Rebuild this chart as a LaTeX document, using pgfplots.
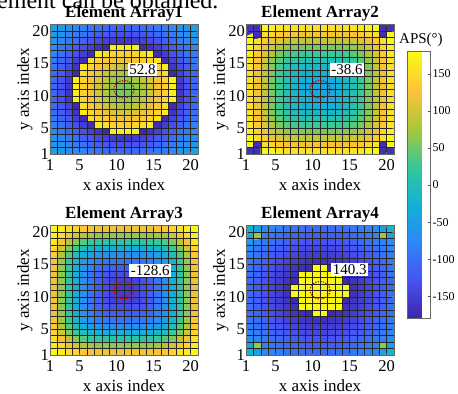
\documentclass[border=0pt]{standalone}
\usepackage{fontspec}
\setmainfont{Liberation Serif}
\usepackage{pgfplots}
\usepackage{pgfplotstable}
\pgfplotsset{compat=1.18}
\pgfplotsset{colormap={parula}{rgb=(0.2422,0.1504,0.6603) rgb=(0.2810,0.3228,0.9579) rgb=(0.1786,0.5289,0.9682) rgb=(0.0689,0.6948,0.8394) rgb=(0.2161,0.7843,0.5923) rgb=(0.6720,0.7793,0.2227) rgb=(0.9970,0.7659,0.2199) rgb=(0.9769,0.9839,0.0805)}}
\newcommand{\fs}[1]{\fontsize{#1}{#1}\selectfont}

% Element Array1 (rows j=1..20, columns i=1..20)
\pgfplotstableread[row sep=\\, header=false]{
-48\\ -56\\ -65\\ -74\\ -83\\ -91\\ -98\\ -104\\ -108\\ -110\\ -110\\ -108\\ -104\\ -98\\ -91\\ -83\\ -74\\ -65\\ -56\\ -48\\
-56\\ -66\\ -77\\ -88\\ -98\\ -108\\ -117\\ -124\\ -129\\ -132\\ -132\\ -129\\ -124\\ -117\\ -108\\ -98\\ -88\\ -77\\ -66\\ -56\\
-65\\ -77\\ -89\\ -102\\ -115\\ -126\\ -138\\ -148\\ -156\\ -160\\ -160\\ -156\\ -148\\ -138\\ -126\\ -115\\ -102\\ -89\\ -77\\ -65\\
-74\\ -88\\ -102\\ -117\\ -132\\ -148\\ -164\\ -176\\ 170\\ 165\\ 165\\ 170\\ -176\\ -164\\ -148\\ -132\\ -117\\ -102\\ -88\\ -74\\
-83\\ -98\\ -115\\ -132\\ -152\\ -172\\ 165\\ 152\\ 144\\ 140\\ 140\\ 144\\ 152\\ 165\\ -172\\ -152\\ -132\\ -115\\ -98\\ -83\\
-91\\ -108\\ -126\\ -148\\ -172\\ 160\\ 144\\ 132\\ 124\\ 120\\ 120\\ 124\\ 132\\ 144\\ 160\\ -172\\ -148\\ -126\\ -108\\ -91\\
-98\\ -117\\ -138\\ -164\\ 165\\ 144\\ 128\\ 116\\ 106\\ 100\\ 100\\ 106\\ 116\\ 128\\ 144\\ 165\\ -164\\ -138\\ -117\\ -98\\
-104\\ -124\\ -148\\ -176\\ 152\\ 132\\ 116\\ 100\\ 87\\ 80\\ 80\\ 87\\ 100\\ 116\\ 132\\ 152\\ -176\\ -148\\ -124\\ -104\\
-108\\ -129\\ -156\\ 170\\ 144\\ 124\\ 106\\ 87\\ 72\\ 65\\ 65\\ 72\\ 87\\ 106\\ 124\\ 144\\ 170\\ -156\\ -129\\ -108\\
-110\\ -132\\ -160\\ 165\\ 140\\ 120\\ 100\\ 80\\ 65\\ 55\\ 55\\ 65\\ 80\\ 100\\ 120\\ 140\\ 165\\ -160\\ -132\\ -110\\
-110\\ -132\\ -160\\ 165\\ 140\\ 120\\ 100\\ 80\\ 65\\ 55\\ 55\\ 65\\ 80\\ 100\\ 120\\ 140\\ 165\\ -160\\ -132\\ -110\\
-108\\ -129\\ -156\\ 170\\ 144\\ 124\\ 106\\ 87\\ 72\\ 65\\ 65\\ 72\\ 87\\ 106\\ 124\\ 144\\ 170\\ -156\\ -129\\ -108\\
-104\\ -124\\ -148\\ -176\\ 152\\ 132\\ 116\\ 100\\ 87\\ 80\\ 80\\ 87\\ 100\\ 116\\ 132\\ 152\\ -176\\ -148\\ -124\\ -104\\
-98\\ -117\\ -138\\ -164\\ 165\\ 144\\ 128\\ 116\\ 106\\ 100\\ 100\\ 106\\ 116\\ 128\\ 144\\ 165\\ -164\\ -138\\ -117\\ -98\\
-91\\ -108\\ -126\\ -148\\ -172\\ 160\\ 144\\ 132\\ 124\\ 120\\ 120\\ 124\\ 132\\ 144\\ 160\\ -172\\ -148\\ -126\\ -108\\ -91\\
-83\\ -98\\ -115\\ -132\\ -152\\ -172\\ 165\\ 152\\ 144\\ 140\\ 140\\ 144\\ 152\\ 165\\ -172\\ -152\\ -132\\ -115\\ -98\\ -83\\
-74\\ -88\\ -102\\ -117\\ -132\\ -148\\ -164\\ -176\\ 170\\ 165\\ 165\\ 170\\ -176\\ -164\\ -148\\ -132\\ -117\\ -102\\ -88\\ -74\\
-65\\ -77\\ -89\\ -102\\ -115\\ -126\\ -138\\ -148\\ -156\\ -160\\ -160\\ -156\\ -148\\ -138\\ -126\\ -115\\ -102\\ -89\\ -77\\ -65\\
-56\\ -66\\ -77\\ -88\\ -98\\ -108\\ -117\\ -124\\ -129\\ -132\\ -132\\ -129\\ -124\\ -117\\ -108\\ -98\\ -88\\ -77\\ -66\\ -56\\
-48\\ -56\\ -65\\ -74\\ -83\\ -91\\ -98\\ -104\\ -108\\ -110\\ -110\\ -108\\ -104\\ -98\\ -91\\ -83\\ -74\\ -65\\ -56\\ -48\\
}\tabA

% Element Array2
\pgfplotstableread[row sep=\\, header=false]{
-165\\ -170\\ 178\\ 170\\ 162\\ 158\\ 155\\ 154\\ 154\\ 154\\ 154\\ 154\\ 154\\ 155\\ 158\\ 162\\ 170\\ 178\\ -170\\ -165\\
178\\ -172\\ 156\\ 143\\ 133\\ 127\\ 124\\ 122\\ 122\\ 122\\ 122\\ 122\\ 122\\ 124\\ 127\\ 133\\ 143\\ 156\\ -172\\ 178\\
178\\ 156\\ 135\\ 118\\ 105\\ 96\\ 91\\ 89\\ 88\\ 88\\ 88\\ 88\\ 89\\ 91\\ 96\\ 105\\ 118\\ 135\\ 156\\ 178\\
170\\ 143\\ 118\\ 96\\ 78\\ 66\\ 59\\ 56\\ 55\\ 55\\ 55\\ 55\\ 56\\ 59\\ 66\\ 78\\ 96\\ 118\\ 143\\ 170\\
162\\ 133\\ 105\\ 78\\ 55\\ 41\\ 32\\ 28\\ 27\\ 27\\ 27\\ 27\\ 28\\ 32\\ 41\\ 55\\ 78\\ 105\\ 133\\ 162\\
158\\ 127\\ 96\\ 66\\ 41\\ 23\\ 12\\ 6\\ 4\\ 4\\ 4\\ 4\\ 6\\ 12\\ 23\\ 41\\ 66\\ 96\\ 127\\ 158\\
155\\ 124\\ 91\\ 59\\ 32\\ 12\\ -3\\ -11\\ -14\\ -14\\ -14\\ -14\\ -11\\ -3\\ 12\\ 32\\ 59\\ 91\\ 124\\ 155\\
154\\ 122\\ 89\\ 56\\ 28\\ 6\\ -11\\ -21\\ -26\\ -27\\ -27\\ -26\\ -21\\ -11\\ 6\\ 28\\ 56\\ 89\\ 122\\ 154\\
154\\ 122\\ 88\\ 55\\ 27\\ 4\\ -14\\ -26\\ -33\\ -35\\ -35\\ -33\\ -26\\ -14\\ 4\\ 27\\ 55\\ 88\\ 122\\ 154\\
154\\ 122\\ 88\\ 55\\ 27\\ 4\\ -14\\ -27\\ -35\\ -38\\ -38\\ -35\\ -27\\ -14\\ 4\\ 27\\ 55\\ 88\\ 122\\ 154\\
154\\ 122\\ 88\\ 55\\ 27\\ 4\\ -14\\ -27\\ -35\\ -38\\ -38\\ -35\\ -27\\ -14\\ 4\\ 27\\ 55\\ 88\\ 122\\ 154\\
154\\ 122\\ 88\\ 55\\ 27\\ 4\\ -14\\ -26\\ -33\\ -35\\ -35\\ -33\\ -26\\ -14\\ 4\\ 27\\ 55\\ 88\\ 122\\ 154\\
154\\ 122\\ 89\\ 56\\ 28\\ 6\\ -11\\ -21\\ -26\\ -27\\ -27\\ -26\\ -21\\ -11\\ 6\\ 28\\ 56\\ 89\\ 122\\ 154\\
155\\ 124\\ 91\\ 59\\ 32\\ 12\\ -3\\ -11\\ -14\\ -14\\ -14\\ -14\\ -11\\ -3\\ 12\\ 32\\ 59\\ 91\\ 124\\ 155\\
158\\ 127\\ 96\\ 66\\ 41\\ 23\\ 12\\ 6\\ 4\\ 4\\ 4\\ 4\\ 6\\ 12\\ 23\\ 41\\ 66\\ 96\\ 127\\ 158\\
162\\ 133\\ 105\\ 78\\ 55\\ 41\\ 32\\ 28\\ 27\\ 27\\ 27\\ 27\\ 28\\ 32\\ 41\\ 55\\ 78\\ 105\\ 133\\ 162\\
170\\ 143\\ 118\\ 96\\ 78\\ 66\\ 59\\ 56\\ 55\\ 55\\ 55\\ 55\\ 56\\ 59\\ 66\\ 78\\ 96\\ 118\\ 143\\ 170\\
178\\ 156\\ 135\\ 118\\ 105\\ 96\\ 91\\ 89\\ 88\\ 88\\ 88\\ 88\\ 89\\ 91\\ 96\\ 105\\ 118\\ 135\\ 156\\ 178\\
178\\ -172\\ 156\\ 143\\ 133\\ 127\\ 124\\ 122\\ 122\\ 122\\ 122\\ 122\\ 122\\ 124\\ 127\\ 133\\ 143\\ 156\\ -172\\ 178\\
-165\\ -170\\ 178\\ 170\\ 162\\ 158\\ 155\\ 154\\ 154\\ 154\\ 154\\ 154\\ 154\\ 155\\ 158\\ 162\\ 170\\ 178\\ -170\\ -165\\
}\tabB

% Element Array3
\pgfplotstableread[row sep=\\, header=false]{
176\\ 166\\ 156\\ 142\\ 131\\ 124\\ 120\\ 118\\ 118\\ 118\\ 118\\ 118\\ 118\\ 120\\ 124\\ 131\\ 142\\ 156\\ 166\\ 176\\
166\\ 148\\ 121\\ 98\\ 82\\ 72\\ 67\\ 65\\ 64\\ 64\\ 64\\ 64\\ 65\\ 67\\ 72\\ 82\\ 98\\ 121\\ 148\\ 166\\
156\\ 121\\ 86\\ 58\\ 38\\ 25\\ 18\\ 15\\ 14\\ 14\\ 14\\ 14\\ 15\\ 18\\ 25\\ 38\\ 58\\ 86\\ 121\\ 156\\
142\\ 98\\ 58\\ 25\\ -1\\ -16\\ -25\\ -29\\ -30\\ -30\\ -30\\ -30\\ -29\\ -25\\ -16\\ -1\\ 25\\ 58\\ 98\\ 142\\
131\\ 82\\ 38\\ -1\\ -30\\ -49\\ -60\\ -65\\ -67\\ -67\\ -67\\ -67\\ -65\\ -60\\ -49\\ -30\\ -1\\ 38\\ 82\\ 131\\
124\\ 72\\ 25\\ -16\\ -49\\ -72\\ -86\\ -93\\ -95\\ -95\\ -95\\ -95\\ -93\\ -86\\ -72\\ -49\\ -16\\ 25\\ 72\\ 124\\
120\\ 67\\ 18\\ -25\\ -60\\ -86\\ -103\\ -113\\ -117\\ -118\\ -118\\ -117\\ -113\\ -103\\ -86\\ -60\\ -25\\ 18\\ 67\\ 120\\
118\\ 65\\ 15\\ -29\\ -65\\ -93\\ -113\\ -128\\ -134\\ -135\\ -135\\ -134\\ -128\\ -113\\ -93\\ -65\\ -29\\ 15\\ 65\\ 118\\
118\\ 64\\ 14\\ -30\\ -67\\ -95\\ -117\\ -134\\ -146\\ -148\\ -148\\ -146\\ -134\\ -117\\ -95\\ -67\\ -30\\ 14\\ 64\\ 118\\
118\\ 64\\ 14\\ -30\\ -67\\ -95\\ -118\\ -135\\ -148\\ -155\\ -155\\ -148\\ -135\\ -118\\ -95\\ -67\\ -30\\ 14\\ 64\\ 118\\
118\\ 64\\ 14\\ -30\\ -67\\ -95\\ -118\\ -135\\ -148\\ -155\\ -155\\ -148\\ -135\\ -118\\ -95\\ -67\\ -30\\ 14\\ 64\\ 118\\
118\\ 64\\ 14\\ -30\\ -67\\ -95\\ -117\\ -134\\ -146\\ -148\\ -148\\ -146\\ -134\\ -117\\ -95\\ -67\\ -30\\ 14\\ 64\\ 118\\
118\\ 65\\ 15\\ -29\\ -65\\ -93\\ -113\\ -128\\ -134\\ -135\\ -135\\ -134\\ -128\\ -113\\ -93\\ -65\\ -29\\ 15\\ 65\\ 118\\
120\\ 67\\ 18\\ -25\\ -60\\ -86\\ -103\\ -113\\ -117\\ -118\\ -118\\ -117\\ -113\\ -103\\ -86\\ -60\\ -25\\ 18\\ 67\\ 120\\
124\\ 72\\ 25\\ -16\\ -49\\ -72\\ -86\\ -93\\ -95\\ -95\\ -95\\ -95\\ -93\\ -86\\ -72\\ -49\\ -16\\ 25\\ 72\\ 124\\
131\\ 82\\ 38\\ -1\\ -30\\ -49\\ -60\\ -65\\ -67\\ -67\\ -67\\ -67\\ -65\\ -60\\ -49\\ -30\\ -1\\ 38\\ 82\\ 131\\
142\\ 98\\ 58\\ 25\\ -1\\ -16\\ -25\\ -29\\ -30\\ -30\\ -30\\ -30\\ -29\\ -25\\ -16\\ -1\\ 25\\ 58\\ 98\\ 142\\
156\\ 121\\ 86\\ 58\\ 38\\ 25\\ 18\\ 15\\ 14\\ 14\\ 14\\ 14\\ 15\\ 18\\ 25\\ 38\\ 58\\ 86\\ 121\\ 156\\
166\\ 148\\ 121\\ 98\\ 82\\ 72\\ 67\\ 65\\ 64\\ 64\\ 64\\ 64\\ 65\\ 67\\ 72\\ 82\\ 98\\ 121\\ 148\\ 166\\
176\\ 166\\ 156\\ 142\\ 131\\ 124\\ 120\\ 118\\ 118\\ 118\\ 118\\ 118\\ 118\\ 120\\ 124\\ 131\\ 142\\ 156\\ 166\\ 176\\
}\tabC

% Element Array4
\pgfplotstableread[row sep=\\, header=false]{
-20\\ -45\\ -72\\ -80\\ -86\\ -92\\ -97\\ -101\\ -104\\ -105\\ -105\\ -104\\ -101\\ -97\\ -92\\ -86\\ -80\\ -72\\ -45\\ -20\\
-45\\ 70\\ -82\\ -90\\ -97\\ -104\\ -110\\ -114\\ -117\\ -118\\ -118\\ -117\\ -114\\ -110\\ -104\\ -97\\ -90\\ -82\\ 70\\ -45\\
-72\\ -82\\ -91\\ -100\\ -108\\ -115\\ -121\\ -126\\ -129\\ -131\\ -131\\ -129\\ -126\\ -121\\ -115\\ -108\\ -100\\ -91\\ -82\\ -72\\
-80\\ -90\\ -100\\ -110\\ -118\\ -126\\ -133\\ -138\\ -141\\ -143\\ -143\\ -141\\ -138\\ -133\\ -126\\ -118\\ -110\\ -100\\ -90\\ -80\\
-86\\ -97\\ -108\\ -118\\ -128\\ -136\\ -143\\ -149\\ -153\\ -155\\ -155\\ -153\\ -149\\ -143\\ -136\\ -128\\ -118\\ -108\\ -97\\ -86\\
-92\\ -104\\ -115\\ -126\\ -136\\ -145\\ -153\\ -159\\ -164\\ -167\\ -167\\ -164\\ -159\\ -153\\ -145\\ -136\\ -126\\ -115\\ -104\\ -92\\
-97\\ -110\\ -121\\ -133\\ -143\\ -153\\ -162\\ -170\\ -176\\ 178\\ 178\\ -176\\ -170\\ -162\\ -153\\ -143\\ -133\\ -121\\ -110\\ -97\\
-101\\ -114\\ -126\\ -138\\ -149\\ -159\\ -170\\ 178\\ 176\\ 175\\ 175\\ 176\\ 178\\ -170\\ -159\\ -149\\ -138\\ -126\\ -114\\ -101\\
-104\\ -117\\ -129\\ -141\\ -153\\ -164\\ -176\\ 176\\ 174\\ 173\\ 173\\ 174\\ 176\\ -176\\ -164\\ -153\\ -141\\ -129\\ -117\\ -104\\
-105\\ -118\\ -131\\ -143\\ -155\\ -167\\ 178\\ 175\\ 173\\ 172\\ 172\\ 173\\ 175\\ 178\\ -167\\ -155\\ -143\\ -131\\ -118\\ -105\\
-105\\ -118\\ -131\\ -143\\ -155\\ -167\\ 178\\ 175\\ 173\\ 172\\ 172\\ 173\\ 175\\ 178\\ -167\\ -155\\ -143\\ -131\\ -118\\ -105\\
-104\\ -117\\ -129\\ -141\\ -153\\ -164\\ -176\\ 176\\ 174\\ 173\\ 173\\ 174\\ 176\\ -176\\ -164\\ -153\\ -141\\ -129\\ -117\\ -104\\
-101\\ -114\\ -126\\ -138\\ -149\\ -159\\ -170\\ 178\\ 176\\ 175\\ 175\\ 176\\ 178\\ -170\\ -159\\ -149\\ -138\\ -126\\ -114\\ -101\\
-97\\ -110\\ -121\\ -133\\ -143\\ -153\\ -162\\ -170\\ -176\\ 178\\ 178\\ -176\\ -170\\ -162\\ -153\\ -143\\ -133\\ -121\\ -110\\ -97\\
-92\\ -104\\ -115\\ -126\\ -136\\ -145\\ -153\\ -159\\ -164\\ -167\\ -167\\ -164\\ -159\\ -153\\ -145\\ -136\\ -126\\ -115\\ -104\\ -92\\
-86\\ -97\\ -108\\ -118\\ -128\\ -136\\ -143\\ -149\\ -153\\ -155\\ -155\\ -153\\ -149\\ -143\\ -136\\ -128\\ -118\\ -108\\ -97\\ -86\\
-80\\ -90\\ -100\\ -110\\ -118\\ -126\\ -133\\ -138\\ -141\\ -143\\ -143\\ -141\\ -138\\ -133\\ -126\\ -118\\ -110\\ -100\\ -90\\ -80\\
-72\\ -82\\ -91\\ -100\\ -108\\ -115\\ -121\\ -126\\ -129\\ -131\\ -131\\ -129\\ -126\\ -121\\ -115\\ -108\\ -100\\ -91\\ -82\\ -72\\
-45\\ 70\\ -82\\ -90\\ -97\\ -104\\ -110\\ -114\\ -117\\ -118\\ -118\\ -117\\ -114\\ -110\\ -104\\ -97\\ -90\\ -82\\ 70\\ -45\\
-20\\ -45\\ -72\\ -80\\ -86\\ -92\\ -97\\ -101\\ -104\\ -105\\ -105\\ -104\\ -101\\ -97\\ -92\\ -86\\ -80\\ -72\\ -45\\ -20\\
}\tabD

\pgfplotsset{panel/.style={
  axis on top,
  scale only axis, width=148bp, height=129.5bp,
  xmin=1, xmax=21, ymin=1, ymax=21, enlargelimits=false,
  xtick={1,5,10,15,20}, ytick={1,5,10,15,20},
  minor xtick={1,2,...,21}, minor ytick={1,2,...,21},
  xminorgrids, yminorgrids,
  minor grid style={black!85, line width=0.25bp},
  minor tick length=0pt, major tick length=2bp, tick align=inside,
  axis line style={black!60, line width=0.4bp},
  tick style={black!60, line width=0.4bp},
  colormap name=parula, point meta min=-180, point meta max=180,
  xlabel={x axis index}, ylabel={y axis index},
  label style={font=\fs{17bp}},
  ticklabel style={font=\fs{16.5bp}},
  /pgf/number format/assume math mode=true,
  xlabel style={at={(axis description cs:0.5,-0.24)}, anchor=center},
  ylabel style={at={(axis description cs:-0.17,0.5)}, anchor=center},
  yticklabel style={xshift=2.5bp},
  xticklabel style={yshift=-2bp},
}}
\tikzset{circ/.style={draw=red!75!black, line width=1.1bp, dash pattern=on 1.3bp off 1.3bp},
  vlab/.style={fill=white, inner xsep=1.5bp, inner ysep=1.5bp, font=\fs{15bp}, anchor=west},
  ptitle/.style={anchor=base, inner sep=0, font=\bfseries\fs{17bp}}}
\newcommand{\cells}[1]{\addplot[matrix plot*, mesh/cols=20, point meta=explicit]
  table[x index=0, y index=0, meta index=0, x expr={mod(\coordindex,20)+1.5}, y expr={floor(\coordindex/20)+1.5}]{#1};}

\begin{document}
\begin{tikzpicture}
\path[use as bounding box] (0,0) rectangle (458bp,394bp);
\node[anchor=base west, inner sep=0, font=\fs{24bp}] at (-3bp,385bp) {ement can be obtained.};

\begin{axis}[panel, at={(50bp,240bp)}, anchor=south west]
\cells{\tabA}
\coordinate (c1) at (axis cs:11,11);
\coordinate (l1) at (axis cs:11.5,14);
\end{axis}

\begin{axis}[panel, at={(246bp,240bp)}, anchor=south west,
  colorbar,
  colorbar style={at={(parent axis.north east)}, anchor=north west, xshift=5bp, yshift=-27bp,
    scale only axis, width=23bp, height=267bp,
    title={}, xlabel={}, ylabel={},
    xminorgrids=false, yminorgrids=false, minor xtick={}, minor ytick={},
    ytick={-150,-100,-50,0,50,100,150}, ytick pos=right,
    yticklabel style={font=\fs{12bp}, xshift=-1.5bp},
    xticklabel style={yshift=0bp},
    /pgf/number format/assume math mode=true,
    major tick length=3bp, tick align=inside,
    axis line style={black!60, line width=0.4bp},
    tick style={black!70, line width=0.4bp}}]
\cells{\tabB}
\coordinate (c2) at (axis cs:11,11);
\coordinate (l2) at (axis cs:12.3,14);
\end{axis}

\begin{axis}[panel, at={(50bp,39bp)}, anchor=south west]
\cells{\tabC}
\coordinate (c3) at (axis cs:11,11);
\coordinate (l3) at (axis cs:11.7,14);
\end{axis}

\begin{axis}[panel, at={(246bp,39bp)}, anchor=south west]
\cells{\tabD}
\coordinate (c4) at (axis cs:11,11);
\coordinate (l4) at (axis cs:12.5,14.2);
\end{axis}

\node[ptitle] at (124bp,376.5bp) {Element Array1};
\node[ptitle] at (320bp,376.5bp) {Element Array2};
\node[ptitle] at (124bp,175bp) {Element Array3};
\node[ptitle] at (320bp,175bp) {Element Array4};

\draw[circ] (c1) ellipse[x radius=10bp, y radius=8.8bp];
\node[vlab] at (l1) {52.8};
\draw[circ] (c2) ellipse[x radius=10bp, y radius=8.8bp];
\node[vlab] at (l2) {-38.6};
\draw[draw=red!85!black, line width=0.7bp] (c3) ellipse[x radius=10bp, y radius=8.8bp];
\node[vlab] at (l3) {-128.6};
\draw[circ] (c4) ellipse[x radius=10bp, y radius=8.8bp];
\node[vlab] at (l4) {140.3};

\node[anchor=west, inner sep=0, font=\fs{15bp}] at (399bp,354bp) {APS(°)};
\end{tikzpicture}
\end{document}
